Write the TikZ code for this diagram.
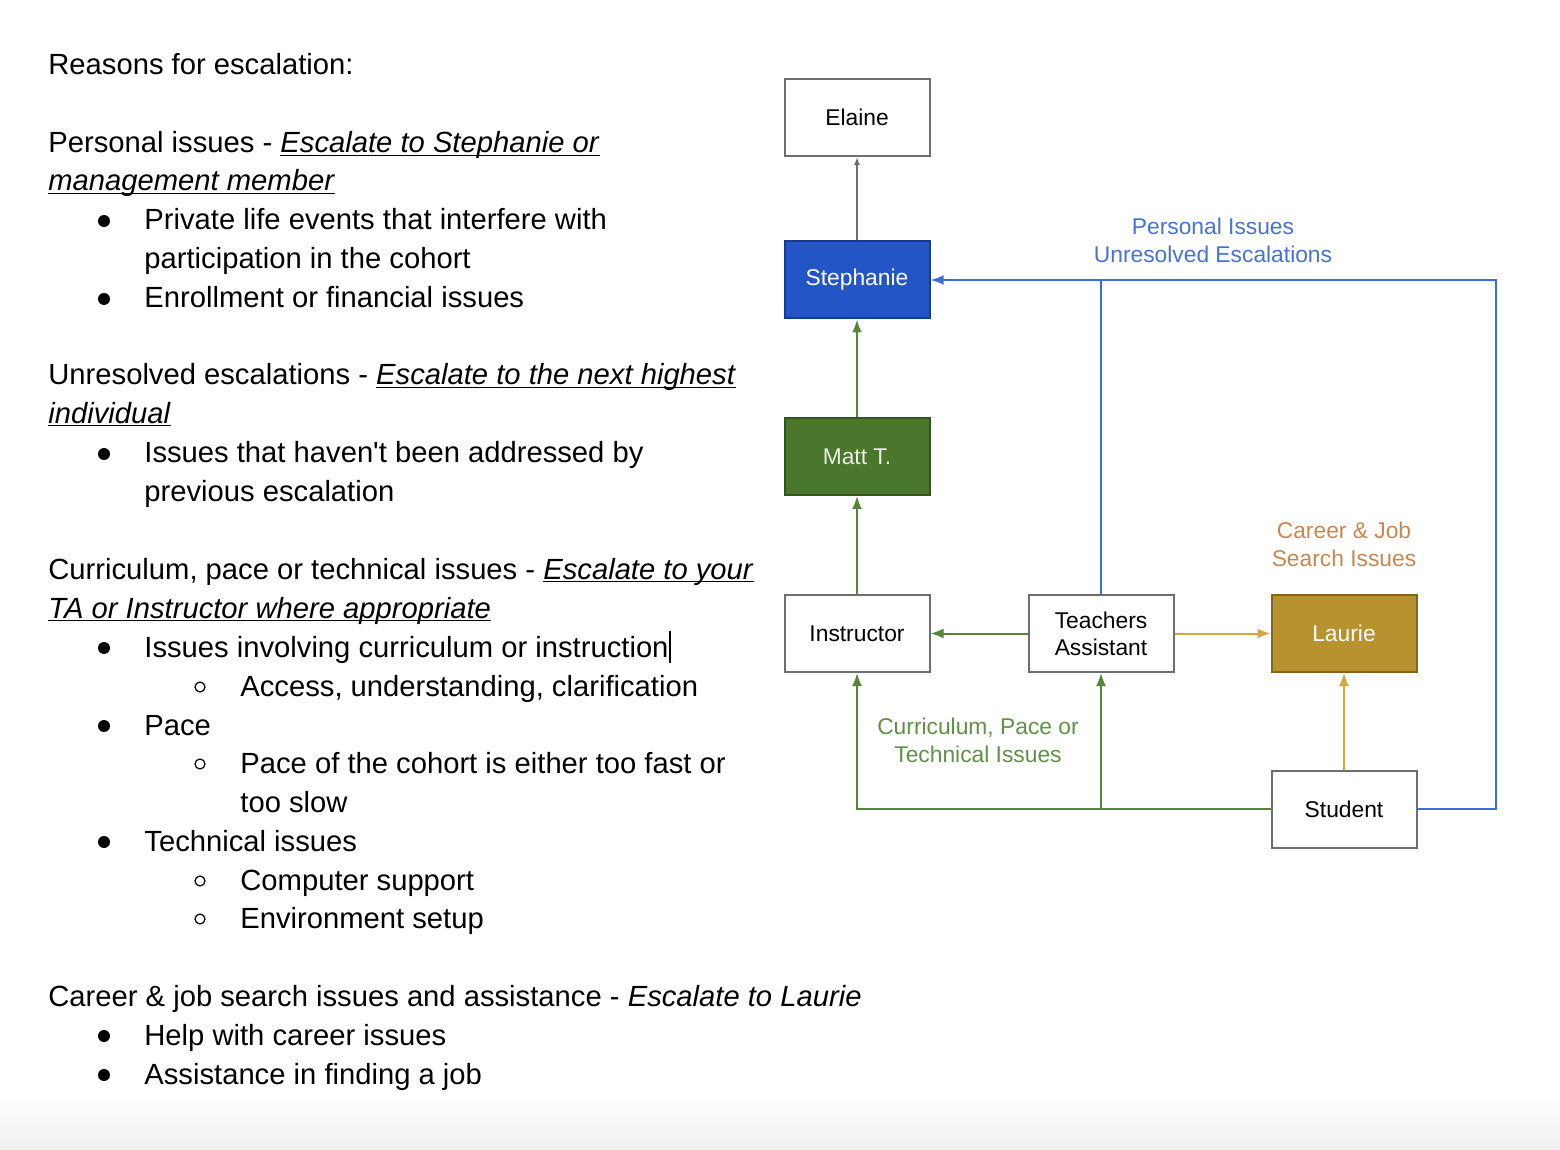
\documentclass[tikz,border=0pt]{standalone}
\usepackage{fontspec}
\setmainfont{Liberation Sans}
\usetikzlibrary{arrows.meta}
\definecolor{stephblue}{RGB}{35,85,198}
\definecolor{mattgreen}{RGB}{74,119,44}
\definecolor{lauriegold}{RGB}{184,146,47}
\definecolor{boxgray}{RGB}{110,110,110}
\definecolor{lineblue}{RGB}{60,110,215}
\definecolor{linegreen}{RGB}{85,135,55}
\definecolor{linegold}{RGB}{212,166,60}
\definecolor{lblblue}{RGB}{70,115,210}
\definecolor{lblgreen}{RGB}{95,145,70}
\definecolor{lblorange}{RGB}{200,135,80}
\newsavebox\escbox
\newcommand\esc[1]{\sbox\escbox{\textit{#1}}\rlap{\usebox\escbox}\rule[-1.7pt]{\wd\escbox}{0.8pt}}
\tikzset{
  txt/.style={anchor=base west, inner sep=0pt, font=\fontsize{14.6}{17}\selectfont},
  box/.style={draw=boxgray, line width=1pt, fill=white, minimum width=72.5pt,
    minimum height=38.5pt, inner sep=0pt, align=center,
    font=\fontsize{11.4}{13.5}\selectfont},
  lbl/.style={align=center, inner sep=0pt, font=\fontsize{11.4}{14}\selectfont},
  arr/.style={-{Latex[length=6.5pt,width=5pt]}},
  smallarr/.style={-{Latex[length=4pt,width=3pt]}},
  grayline/.style={draw=boxgray, line width=0.8pt},
  greenline/.style={draw=linegreen, line width=1pt},
  blueline/.style={draw=lineblue, line width=1pt},
  goldline/.style={draw=linegold, line width=1pt}
}
\begin{document}
\begin{tikzpicture}[x=0.5pt,y=-0.5pt]
          \useasboundingbox (0,0) rectangle (1560,1150);
          \shade[top color=white, bottom color=gray!12] (0,1095) rectangle (1560,1150);

          % reasons
          \node[txt] (r1) at (48,75) {Reasons for escalation:};
          \node[txt] (r2) at (48,153) {Personal issues - \esc{Escalate to Stephanie or}};
          \node[txt] (r3) at (48,191) {\esc{management member}};
          \node[txt] (r4) at (144,230) {Private life events that interfere with};
          \node[txt] (r5) at (144,269) {participation in the cohort};
          \node[txt] (r6) at (144,308) {Enrollment or financial issues};
          \node[txt] (r7) at (48,385) {Unresolved escalations - \esc{Escalate to the next highest}};
          \node[txt] (r8) at (48,423) {\esc{individual}};
          \node[txt] (r9) at (144,463) {Issues that haven\textquotesingle t been addressed by};
          \node[txt] (r10) at (144,502) {previous escalation};
          \node[txt] (r11) at (48,579) {Curriculum, pace or technical issues - \esc{Escalate to your}};
          \node[txt] (r12) at (48,618) {\esc{TA or Instructor where appropriate}};
          \node[txt] (r13) at (144,657) {Issues involving curriculum or instruction\rule[-3pt]{1.3pt}{16pt}};
          \node[txt] (r14) at (240,696) {Access, understanding, clarification};
          \node[txt] (r15) at (144,735) {Pace};
          \node[txt] (r16) at (240,773) {Pace of the cohort is either too fast or};
          \node[txt] (r17) at (240,812) {too slow};
          \node[txt] (r18) at (144,851) {Technical issues};
          \node[txt] (r19) at (240,890) {Computer support};
          \node[txt] (r20) at (240,928) {Environment setup};
          \node[txt] (r21) at (48,1006) {Career \& job search issues and assistance - \textit{Escalate to Laurie}};
          \node[txt] (r22) at (144,1045) {Help with career issues};
          \node[txt] (r23) at (144,1084) {Assistance in finding a job};

          \foreach \y in {221,299,454,648,726,842,1036,1075}
            \fill (104,\y) circle (3pt);
          \foreach \y in {687,764,881,919}
            \draw[line width=0.6pt] (200,\y) circle (2.5pt);

          % chart
          \node[box] (elaine) at (857,117.5) {Elaine};
          \node[box, fill=stephblue, draw=stephblue!70!black, text=white] (steph) at (857,280) {Stephanie};
          \node[box, fill=mattgreen, draw=mattgreen!70!black, text=white!88!mattgreen] (matt) at (857,456.5) {Matt T.};
          \node[box] (instr) at (857,633.5) {Instructor};
          \node[box] (ta) at (1101,633.5) {Teachers\\Assistant};
          \node[box, fill=lauriegold, draw=lauriegold!70!black, text=white] (laurie) at (1344,633.5) {Laurie};
          \node[box] (student) at (1344,809) {Student};

          \node[lbl, text=lblblue] (perslbl) at (1213,240) {Personal Issues\\Unresolved Escalations};
          \node[lbl, text=lblorange] (careerlbl) at (1344,544) {Career \& Job\\Search Issues};
          \node[lbl, text=lblgreen] (currlbl) at (978,740.5) {Curriculum, Pace or\\Technical Issues};

          \coordinate (tajoin) at (ta |- student);
          \coordinate (stephjoin) at (ta |- steph);
          \coordinate (rail) at (1496,809);

          \draw[grayline,smallarr] (steph) -- (elaine);
          \draw[greenline,arr] (matt) -- (steph);
          \draw[greenline,arr] (instr) -- (matt);
          \draw[greenline,arr] (ta) -- (instr);
          \draw[greenline,arr] (student.west) -| (instr.south);
          \draw[greenline,arr] (tajoin) -- (ta.south);
          \draw[goldline,arr] (ta) -- (laurie);
          \draw[goldline,arr] (student) -- (laurie);
          \draw[blueline] (ta.north) -- (stephjoin);
          \draw[blueline,arr] (student.east) -- (rail) |- (steph.east);
      \end{tikzpicture}
\end{document}
